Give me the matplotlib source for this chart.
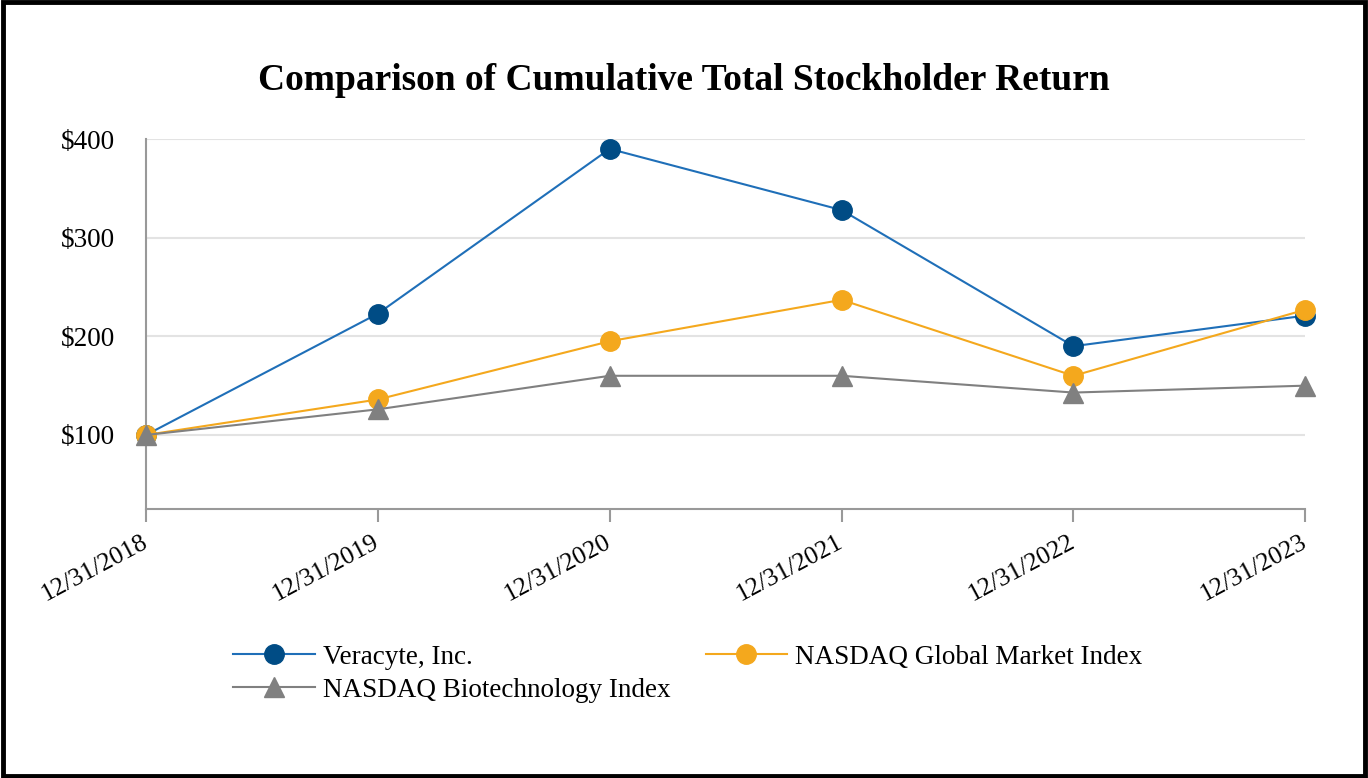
import matplotlib.pyplot as plt
from matplotlib.patches import Rectangle

# DATA

dates = ["12/31/2018", "12/31/2019", "12/31/2020", "12/31/2021", "12/31/2022", "12/31/2023"]
veracyte = [100, 223, 390, 328, 190, 221]
nasdaq_global = [100, 136, 195, 237, 160, 227]
nasdaq_biotech = [100, 126, 160, 160, 143, 150]
y_ticks = [100, 200, 300, 400]

plt.rcParams["font.family"] = ["Liberation Serif", "DejaVu Serif"]

fig = plt.figure(figsize=(13.68, 7.78), dpi=100)
ax = fig.add_axes([0.1067, 0.3458, 0.8475, 0.4755])

x = list(range(len(dates)))

l1, = ax.plot(x, veracyte, color="#1F6FB8", linewidth=1.5, marker="o",
              markersize=14, markerfacecolor="#004C85", markeredgecolor="#004C85",
              label="Veracyte, Inc.", zorder=2)
l2, = ax.plot(x, nasdaq_global, color="#F4A81D", linewidth=1.5, marker="o",
              markersize=14, markerfacecolor="#F4A81D", markeredgecolor="#F4A81D",
              label="NASDAQ Global Market Index", zorder=3)
l3, = ax.plot(x, nasdaq_biotech, color="#808080", linewidth=1.5, marker="^",
              markersize=14, markerfacecolor="#808080", markeredgecolor="#808080",
              label="NASDAQ Biotechnology Index", zorder=4)

ax.set_xlim(0, len(dates) - 1)
ax.set_ylim(25, 400)
ax.set_yticks(y_ticks)
ax.set_yticklabels([f"${v}" for v in y_ticks], fontsize=19.5)
ax.set_xticks(x)
ax.set_xticklabels(dates, fontsize=18.5, rotation=28, ha="right", va="center",
                   rotation_mode="anchor")

ax.grid(axis="y", color="#E3E3E3", linewidth=1.5)
ax.set_axisbelow(True)
for side in ["top", "right"]:
    ax.spines[side].set_visible(False)
for side in ["left", "bottom"]:
    ax.spines[side].set_color("#999999")
    ax.spines[side].set_linewidth(1.5)
ax.tick_params(axis="y", length=0, pad=22)
ax.tick_params(axis="x", length=9, width=1.5, color="#999999", pad=14, direction="out")
ax.patch.set_visible(False)
for ln in (l1, l2, l3):
    ln.set_clip_on(False)

fig.text(0.5, 0.897, "Comparison of Cumulative Total Stockholder Return",
         ha="center", va="center", fontsize=27, fontweight="bold")

fig.legend([l1, l3, l2], [l1.get_label(), l3.get_label(), l2.get_label()],
           loc="center left", bbox_to_anchor=(0.1528, 0.134), ncol=2,
           frameon=False, fontsize=19.5, handlelength=3.0, columnspacing=1.3,
           labelspacing=0.3, handletextpad=0.3)

fig.patches.append(Rectangle((0.002, 0.003), 0.996, 0.994, transform=fig.transFigure,
                             fill=False, edgecolor="black", linewidth=3.5))

fig.savefig("out.png", dpi=100)
